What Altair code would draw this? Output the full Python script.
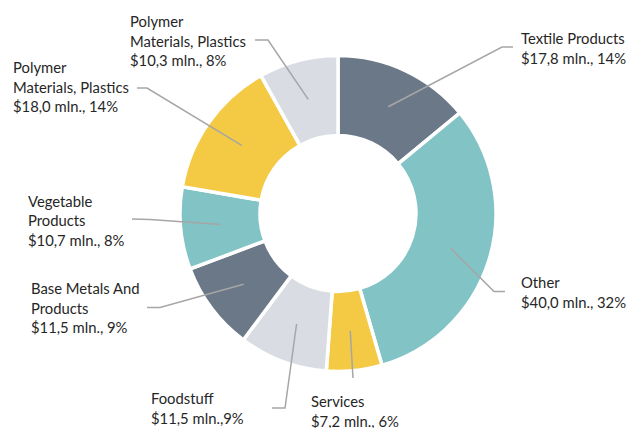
import math
import altair as alt
import pandas as pd

# ---- data ----
categories = ["Textile Products", "Other", "Services", "Foodstuff",
              "Base Metals And Products", "Vegetable Products",
              "Polymer Materials, Plastics", "Polymer Materials, Plastics"]
values = [17.8, 40.0, 7.2, 11.5, 11.5, 10.7, 18.0, 10.3]
label_texts = [
    "Textile Products\n$17,8 mln., 14%",
    "Other\n$40,0 mln., 32%",
    "Services\n$7,2 mln., 6%",
    "Foodstuff\n$11,5 mln.,9%",
    "Base Metals And\nProducts\n$11,5 mln., 9%",
    "Vegetable\nProducts\n$10,7 mln., 8%",
    "Polymer\nMaterials, Plastics\n$18,0 mln., 14%",
    "Polymer\nMaterials, Plastics\n$10,3 mln., 8%",
]

# ---- styles / layout ----
slice_colors = ["#6b7888", "#82c3c5", "#f4ca45", "#d9dde3",
                "#6b7888", "#82c3c5", "#f4ca45", "#d9dde3"]
W, H = 622, 420
CX, CY = 338, 213.5          # donut centre, page pixels
R_OUT, R_IN, R_LEAD = 158, 78, 118
# label text anchor (left x, first-line baseline y) in page pixels
label_pos = [(521, 44), (521, 288), (311, 407), (151, 404),
             (31, 294), (28, 206.5), (13, 73), (130, 27)]
# leader elbow and end points in page pixels
leader_elbow = [(502, 47), (494, 291.5), (353, 378), (285, 408),
                (160, 307.5), (150, 219.5), (147, 88), (268, 40)]
leader_end = [(513, 47), (505, 291.5), (353, 378), (272, 408),
              (147, 307.5), (132, 219), (137, 88), (255, 40)]

ids = [f"s{i}" for i in range(len(values))]
slices = pd.DataFrame({"id": ids, "category": categories, "value": values,
                       "idx": list(range(len(values)))})

total = sum(values)
rows = []
cum = 0.0
for i, v in enumerate(values):
    mid = 2 * math.pi * (cum + v / 2) / total
    cum += v
    ix = CX + R_LEAD * math.sin(mid)
    iy = CY - R_LEAD * math.cos(mid)
    pts = [(ix, iy), leader_elbow[i], leader_end[i]]
    for k, (px, py) in enumerate(pts):
        rows.append({"id": ids[i], "k": k, "px": px, "py": py})
leaders = pd.DataFrame(rows)

labels = pd.DataFrame({"id": ids, "text": label_texts,
                       "px": [p[0] for p in label_pos],
                       "py": [p[1] for p in label_pos]})

xs = alt.Scale(domain=[8, 8 + W], range=[0, W], nice=False, zero=False)
ys = alt.Scale(domain=[8, 8 + H], range=[0, H], nice=False, zero=False)

arcs = alt.Chart(slices).mark_arc(
    radius=R_OUT, innerRadius=R_IN, stroke="white", strokeWidth=3.5
).encode(
    theta=alt.Theta("value:Q", stack=True),
    order=alt.Order("idx:Q"),
    color=alt.Color("id:N", scale=alt.Scale(domain=ids, range=slice_colors), legend=None),
    x=alt.value(CX - 8),
    y=alt.value(CY - 8),
)

lines = alt.Chart(leaders).mark_line(color="#a6a6a6", strokeWidth=1.5).encode(
    x=alt.X("px:Q", scale=xs, axis=None),
    y=alt.Y("py:Q", scale=ys, axis=None),
    detail="id:N",
    order="k:Q",
)

texts = alt.Chart(labels).mark_text(
    align="left", baseline="alphabetic", lineBreak="\n", lineHeight=19.5,
    font="Lato", fontSize=14.8, color="#262626"
).encode(
    x=alt.X("px:Q", scale=xs, axis=None),
    y=alt.Y("py:Q", scale=ys, axis=None),
    text="text:N",
)

chart = alt.layer(arcs, lines, texts).properties(
    width=W, height=H, padding=0,
    autosize=alt.AutoSizeParams(type="none"),
).configure_view(stroke=None)

chart.save("out.html", embed_options={"renderer": "svg", "actions": False})
